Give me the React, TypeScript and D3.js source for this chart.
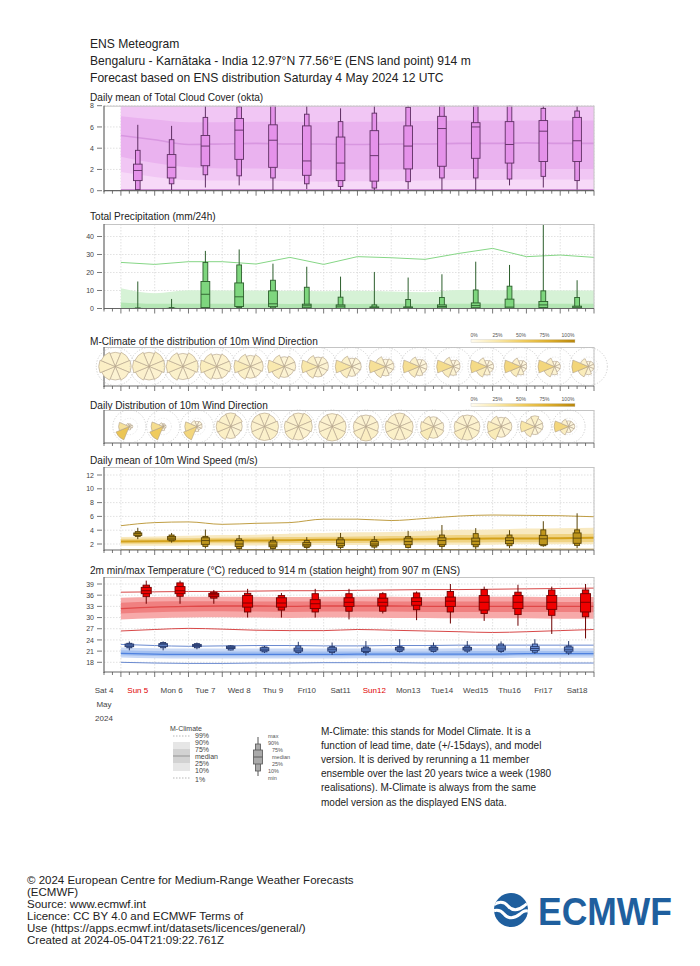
import React from 'react';
import * as d3 from 'd3';

const FONT = "'Liberation Sans', Arial, Helvetica, sans-serif";

// ---------- DATA ----------
const titleLines = [
  'ENS Meteogram',
  'Bengaluru - Karnātaka - India 12.97°N 77.56°E (ENS land point) 914 m',
  'Forecast based on ENS distribution Saturday 4 May 2024 12 UTC',
];
const dayLabels = ['Sat 4', 'Sun 5', 'Mon 6', 'Tue 7', 'Wed 8', 'Thu 9', 'Fri10', 'Sat11', 'Sun12', 'Mon13', 'Tue14', 'Wed15', 'Thu16', 'Fri17', 'Sat18'];
const sundayIdx = [1, 8];

// box stats: [min, p10, p25, median, p75, p90, max]
const cloudBoxes = [
  [0.0, 0.1, 0.95, 1.9, 2.5, 3.8, 6.2],
  [0.0, 0.65, 1.2, 2.2, 3.4, 4.8, 6.1],
  [0.3, 1.5, 2.35, 4.2, 5.2, 6.9, 8.0],
  [0.5, 1.4, 2.95, 5.7, 6.8, 7.9, 8.0],
  [0.0, 1.2, 2.2, 4.75, 6.2, 8.0, 8.0],
  [0.15, 0.65, 1.45, 2.8, 6.1, 7.2, 8.0],
  [0.0, 0.4, 0.95, 2.6, 5.05, 6.5, 7.75],
  [0.0, 0.25, 0.9, 3.3, 5.65, 7.3, 8.0],
  [0.15, 0.85, 2.05, 4.2, 6.1, 7.85, 8.0],
  [0.0, 1.2, 2.3, 5.85, 7.0, 8.0, 8.0],
  [0.0, 1.2, 3.05, 6.0, 6.4, 8.0, 8.0],
  [0.5, 1.1, 2.6, 4.35, 6.5, 8.0, 8.0],
  [0.3, 1.35, 2.75, 5.6, 6.6, 7.75, 8.0],
  [0.1, 0.95, 2.75, 4.7, 6.9, 7.5, 8.0],
];
const cloudClim99 = [8, 8, 8, 8, 8, 8, 8, 8, 8, 8, 8, 8, 8, 8, 8];
const cloudClim75 = [7.0, 6.7, 6.45, 6.45, 6.5, 6.5, 6.45, 6.5, 6.5, 6.55, 6.6, 6.6, 6.6, 6.6, 6.6];
const cloudClimMed = [5.2, 4.8, 4.35, 4.4, 4.45, 4.4, 4.4, 4.35, 4.4, 4.4, 4.45, 4.45, 4.5, 4.45, 4.45];
const cloudClim25 = [3.2, 2.6, 2.2, 2.1, 2.1, 2.05, 2.0, 2.0, 2.0, 2.05, 2.05, 2.05, 2.05, 2.05, 2.05];
const cloudClim10 = [1.75, 1.3, 1.0, 0.95, 0.95, 0.9, 0.85, 0.9, 0.9, 0.95, 1.0, 1.0, 1.05, 1.05, 1.05];
const cloudClim1 = [0.1, 0.1, 0.1, 0.1, 0.1, 0.1, 0.1, 0.1, 0.1, 0.1, 0.1, 0.1, 0.1, 0.1, 0.1];

const precipBoxes = [
  [0, 0, 0, 0, 0.05, 0.3, 15],
  [0, 0, 0, 0, 0.1, 0.5, 5.3],
  [0, 0.2, 0.5, 7.9, 15, 25.6, 32],
  [0, 0.5, 1.1, 6.5, 14.2, 24.2, 32.8],
  [0, 0.3, 1.0, 2.6, 9.8, 15.7, 24.9],
  [0, 0.1, 0.4, 1.5, 2.4, 11.8, 23.2],
  [0, 0, 0.2, 1.3, 2.0, 6.3, 17.7],
  [0, 0, 0.1, 0.4, 0.9, 2.0, 20.3],
  [0, 0, 0.1, 0.4, 0.9, 5.0, 17.2],
  [0, 0, 0.3, 1.1, 2.0, 6.1, 19],
  [0, 0.1, 0.4, 1.6, 3.1, 10.3, 26],
  [0, 0, 0.2, 0.8, 5.2, 12.4, 24.2],
  [0, 0.1, 0.5, 2.0, 3.9, 9.8, 47],
  [0, 0, 0.2, 0.7, 1.3, 6.1, 15.7],
];
const precipClim99 = [25.6, 24.5, 26, 26, 24.7, 28.4, 24.5, 28.8, 28.2, 27.3, 30.6, 33.4, 28.8, 29.7, 28.4];
const precipClim90 = [11.3, 8.5, 10.1, 10, 10, 9.8, 9.6, 9.8, 9.5, 9, 10.3, 10.2, 10.1, 10, 10];
const precipClim75 = [3.3, 2.6, 2.6, 2.7, 2.6, 2.5, 2.6, 2.5, 2.6, 2.5, 2.6, 2.7, 2.6, 2.6, 2.6];

// wind direction frequencies (%) for sectors N, NE, E, SE, S, SW, W, NW
const climRoses = [
  [11, 13, 14, 12, 10, 12, 15, 13],
  [11, 14, 14, 11, 10, 12, 15, 13],
  [10, 13, 14, 11, 10, 13, 16, 13],
  [10, 12, 13, 11, 10, 13, 18, 13],
  [9, 12, 12, 10, 10, 14, 20, 13],
  [8, 11, 11, 9, 10, 15, 23, 13],
  [8, 10, 10, 9, 10, 15, 25, 13],
  [7, 9, 9, 8, 10, 16, 28, 13],
  [6, 8, 8, 7, 10, 17, 31, 13],
  [6, 7, 7, 7, 10, 17, 33, 13],
  [5, 7, 6, 6, 10, 18, 35, 13],
  [5, 6, 6, 6, 10, 18, 37, 12],
  [5, 6, 5, 5, 10, 18, 39, 12],
  [4, 5, 5, 5, 10, 19, 40, 12],
  [4, 5, 5, 5, 10, 19, 41, 11],
];
const dailyRoses = [
  [2, 2, 3, 2, 3, 55, 30, 3],
  [2, 2, 2, 2, 4, 50, 34, 4],
  [5, 6, 5, 3, 5, 40, 28, 8],
  [14, 12, 10, 9, 11, 15, 16, 13],
  [12, 11, 13, 14, 13, 13, 12, 12],
  [12, 14, 13, 11, 12, 14, 13, 11],
  [11, 12, 13, 14, 14, 13, 12, 11],
  [10, 11, 12, 14, 16, 14, 12, 11],
  [12, 11, 12, 13, 12, 14, 14, 12],
  [9, 8, 10, 12, 13, 20, 16, 12],
  [10, 11, 12, 13, 14, 16, 13, 11],
  [8, 10, 11, 10, 11, 20, 18, 12],
  [14, 9, 8, 7, 8, 16, 26, 12],
  [6, 6, 7, 6, 7, 16, 40, 12],
];
const colorbarLabels = ['0%', '25%', '50%', '75%', '100%'];

const windBoxes = [
  [2.7, 3.1, 3.25, 3.5, 3.6, 3.8, 4.35],
  [2.2, 2.45, 2.6, 2.85, 3.1, 3.3, 3.6],
  [1.35, 1.65, 1.95, 2.5, 2.9, 3.1, 4.1],
  [1.15, 1.35, 1.65, 2.0, 2.5, 2.75, 3.3],
  [1.15, 1.35, 1.6, 1.85, 2.3, 2.5, 3.1],
  [1.0, 1.5, 1.7, 1.9, 2.2, 2.5, 3.0],
  [1.25, 1.5, 1.75, 2.1, 2.6, 2.9, 3.6],
  [1.3, 1.55, 1.75, 2.0, 2.35, 2.6, 3.15],
  [1.35, 1.5, 1.9, 2.35, 2.85, 3.1, 3.9],
  [0.85, 1.65, 1.9, 2.5, 2.9, 3.3, 4.75],
  [1.2, 1.6, 1.9, 2.4, 2.85, 3.5, 4.3],
  [1.4, 1.75, 2.05, 2.5, 2.9, 3.3, 4.0],
  [1.6, 1.75, 1.9, 2.75, 3.25, 4.05, 5.3],
  [1.4, 1.8, 2.1, 2.85, 3.6, 4.05, 6.45],
];
const windClim99 = [4.65, 5.1, 5.2, 4.85, 5.0, 5.1, 5.6, 5.6, 5.4, 5.7, 6.05, 6.2, 6.15, 6.1, 5.95];
const windClim90 = [3.0, 3.1, 3.2, 3.3, 3.35, 3.5, 3.6, 3.7, 3.75, 3.9, 4.05, 4.1, 4.25, 4.3, 4.35];
const windClim75 = [2.75, 2.8, 2.85, 2.9, 2.95, 3.0, 3.05, 3.1, 3.15, 3.2, 3.3, 3.35, 3.4, 3.45, 3.5];
const windClimMed = [2.35, 2.4, 2.45, 2.5, 2.5, 2.55, 2.6, 2.6, 2.65, 2.7, 2.75, 2.8, 2.8, 2.85, 2.9];
const windClim25 = [2.05, 2.05, 2.1, 2.1, 2.1, 2.15, 2.15, 2.15, 2.2, 2.2, 2.2, 2.25, 2.25, 2.25, 2.3];
const windClim10 = [1.75, 1.75, 1.8, 1.8, 1.8, 1.85, 1.85, 1.85, 1.9, 1.9, 1.9, 1.9, 1.95, 1.95, 1.95];
const windClim1 = [1.15, 1.15, 1.15, 1.15, 1.2, 1.2, 1.2, 1.2, 1.2, 1.2, 1.2, 1.25, 1.25, 1.25, 1.25];

const tmaxBoxes = [
  [33.7, 35.6, 36.4, 37.2, 38.1, 38.7, 39.9],
  [33.7, 35.7, 36.4, 37.2, 38.3, 39.3, 39.9],
  [33.7, 35.2, 35.6, 36.1, 36.5, 36.8, 37.4],
  [30.0, 31.5, 32.8, 33.9, 35.9, 36.5, 37.7],
  [30.0, 32.0, 32.8, 33.9, 35.3, 35.9, 36.6],
  [30.0, 31.5, 32.4, 33.7, 34.8, 36.4, 37.7],
  [29.5, 31.7, 33.0, 34.1, 35.3, 36.4, 37.7],
  [31.1, 31.7, 33.1, 34.1, 35.2, 36.4, 36.8],
  [29.3, 32.1, 33.3, 34.3, 35.3, 36.6, 37.0],
  [28.4, 31.5, 33.0, 34.4, 35.5, 37.0, 39.0],
  [29.1, 31.1, 32.0, 34.1, 35.9, 37.5, 38.3],
  [27.8, 30.8, 32.4, 34.1, 35.9, 36.8, 38.8],
  [25.6, 30.6, 32.2, 34.1, 35.9, 37.4, 38.3],
  [24.4, 30.2, 31.5, 34.1, 36.4, 37.4, 39.0],
];
const tminBoxes = [
  [21.2, 21.9, 22.2, 22.6, 22.9, 23.1, 23.6],
  [21.2, 21.9, 22.2, 22.7, 23.0, 23.3, 23.6],
  [21.5, 21.9, 22.2, 22.5, 22.8, 23.0, 23.3],
  [21.2, 21.3, 21.7, 22.0, 22.3, 22.4, 22.6],
  [20.5, 20.8, 21.1, 21.5, 21.9, 22.1, 22.4],
  [20.3, 20.6, 21.0, 21.3, 21.8, 22.4, 23.5],
  [20.0, 20.6, 21.0, 21.5, 21.9, 22.2, 23.3],
  [19.8, 20.6, 20.9, 21.3, 21.8, 22.1, 23.7],
  [20.6, 20.9, 21.3, 21.6, 22.0, 22.2, 24.2],
  [20.6, 20.9, 21.3, 21.6, 22.0, 22.4, 23.3],
  [20.5, 21.0, 21.3, 21.6, 22.0, 22.4, 23.7],
  [20.5, 20.9, 21.3, 21.8, 22.4, 22.9, 23.6],
  [20.3, 20.7, 21.2, 21.7, 22.2, 22.9, 24.2],
  [20.0, 20.5, 21.0, 21.5, 22.1, 22.4, 23.7],
];
const tmaxClim99 = [36.8, 36.9, 37.0, 37.0, 37.1, 37.2, 37.2, 37.3, 37.4, 37.5, 37.5, 37.6, 37.7, 37.8, 37.9];
const tmaxClim90 = [35.3, 35.5, 35.6, 35.6, 35.6, 35.5, 35.6, 35.6, 35.6, 35.5, 35.6, 35.6, 35.6, 35.5, 35.5];
const tmaxClim75 = [34.0, 34.3, 34.4, 34.4, 34.3, 34.3, 34.3, 34.4, 34.3, 34.3, 34.3, 34.3, 34.3, 34.2, 34.2];
const tmaxClimMed = [32.4, 32.8, 33.0, 33.1, 33.1, 33.0, 33.1, 33.1, 33.1, 33.0, 33.0, 33.0, 33.0, 33.0, 33.0];
const tmaxClim25 = [31.1, 31.4, 31.6, 31.7, 31.6, 31.5, 31.6, 31.6, 31.6, 31.5, 31.5, 31.5, 31.5, 31.5, 31.4];
const tmaxClim10 = [29.5, 29.8, 30.0, 30.1, 30.0, 29.9, 30.0, 30.0, 29.9, 29.9, 29.8, 29.8, 29.8, 29.7, 29.7];
const tmaxClim1 = [26.4, 26.8, 27.1, 26.9, 26.6, 26.5, 26.5, 26.8, 26.6, 26.4, 26.2, 26.0, 26.2, 26.5, 26.8];
const tminClim99 = [22.8, 22.5, 22.3, 22.4, 22.5, 22.5, 22.4, 22.4, 22.5, 22.5, 22.6, 22.6, 22.6, 22.6, 22.6];
const tminClim90 = [22.0, 21.8, 21.7, 21.7, 21.7, 21.7, 21.7, 21.7, 21.7, 21.7, 21.8, 21.8, 21.8, 21.8, 21.8];
const tminClim75 = [21.2, 21.0, 20.9, 20.9, 20.9, 20.9, 20.9, 20.9, 20.9, 20.9, 21.0, 21.0, 21.0, 21.0, 21.0];
const tminClimMed = [20.4, 20.2, 20.1, 20.1, 20.1, 20.1, 20.1, 20.2, 20.2, 20.2, 20.2, 20.2, 20.3, 20.3, 20.3];
const tminClim25 = [19.9, 19.7, 19.6, 19.6, 19.6, 19.6, 19.6, 19.7, 19.7, 19.7, 19.7, 19.7, 19.8, 19.8, 19.8];
const tminClim10 = [19.3, 19.1, 19.0, 19.0, 19.0, 19.0, 19.0, 19.1, 19.1, 19.1, 19.1, 19.1, 19.2, 19.2, 19.2];
const tminClim1 = [18.0, 17.8, 17.7, 17.7, 17.8, 17.8, 17.9, 17.9, 17.9, 17.8, 17.8, 17.8, 17.8, 17.8, 17.8];

const climLegend = ['99%', '90%', '75%', 'median', '25%', '10%', '1%'];
const boxLegend = ['max', '90%', '75%', 'median', '25%', '10%', 'min'];
const noteLines = [
  'M-Climate: this stands for Model Climate. It is a',
  'function of lead time, date (+/-15days), and model',
  'version. It is derived by rerunning a 11 member',
  'ensemble over the last 20 years twice a week (1980',
  'realisations). M-Climate is always from the same',
  'model version as the displayed ENS data.',
];
const footerLines = [
  '© 2024 European Centre for Medium-Range Weather Forecasts',
  '(ECMWF)',
  'Source: www.ecmwf.int',
  'Licence: CC BY 4.0 and ECMWF Terms of',
  'Use (https://apps.ecmwf.int/datasets/licences/general/)',
  'Created at 2024-05-04T21:09:22.761Z',
];

// ---------- LAYOUT ----------
const x = d3.scaleLinear().domain([0, 348]).range([104, 594]); // hours from Sat 4 12 UTC
const climHours = d3.range(15).map((k) => 12 + 24 * k);
const noonHours = d3.range(14).map((k) => 24 + 24 * k);
const eveningHours = d3.range(14).map((k) => 30 + 24 * k);
const morningHours = d3.range(14).map((k) => 18 + 24 * k);
const climRoseHours = d3.range(15).map((k) => 8 + 24 * k);
const majorTicks = d3.range(15).map((k) => 12 + 24 * k);
const minorTicks = d3.range(0, 349, 6);

const roseColor = d3
  .scaleLinear<string>()
  .domain([0, 0.25, 0.5, 0.75, 1])
  .range(['#fffbee', '#f8e7aa', '#efcb5e', '#dcad2c', '#b8860b']);

type Panel = { top: number; bottom: number; y?: d3.ScaleLinear<number, number>; ticks?: number[] };

function Frame({ p, id, children }: { p: Panel; id: string; children?: React.ReactNode }) {
  const { top, bottom, y, ticks } = p;
  return (
    <g>
      <defs>
        <clipPath id={id}>
          <rect x={104} y={top} width={490} height={bottom - top} />
        </clipPath>
      </defs>
      <rect x={104} y={top} width={490} height={bottom - top} fill="#fff" />
      {majorTicks.map((h) => (
        <line key={'v' + h} x1={x(h)} x2={x(h)} y1={top} y2={bottom} stroke="#d4d4d4" strokeWidth={0.7} strokeDasharray="1.5,1.5" />
      ))}
      {y && ticks && ticks.map((t) => (
        <line key={'h' + t} x1={104} x2={594} y1={y(t)} y2={y(t)} stroke="#d4d4d4" strokeWidth={0.7} strokeDasharray="1.5,1.5" />
      ))}
      <g clipPath={`url(#${id})`}>{children}</g>
      <line x1={104} x2={594} y1={top + 0.5} y2={top + 0.5} stroke="#c4c4c4" strokeWidth={1} />
      <line x1={594} x2={594} y1={top} y2={bottom} stroke="#c4c4c4" strokeWidth={1} />
      <line x1={104} x2={104} y1={top} y2={bottom + 1} stroke="#666" strokeWidth={1.2} />
      <line x1={104} x2={594} y1={bottom} y2={bottom} stroke="#666" strokeWidth={1.2} />
      {minorTicks.map((h) => {
        const major = (h - 12) % 24 === 0;
        return <line key={'t' + h} x1={x(h)} x2={x(h)} y1={bottom} y2={bottom + (major ? 5 : 3)} stroke="#555" strokeWidth={0.8} />;
      })}
      {y && ticks && ticks.map((t) => (
        <g key={'yl' + t}>
          <line x1={97} x2={102} y1={y(t)} y2={y(t)} stroke="#555" strokeWidth={0.8} />
          <text x={94} y={y(t) + 2.6} fontSize={7} fill="#444" textAnchor="end" fontFamily={FONT}>{t}</text>
        </g>
      ))}
    </g>
  );
}

function Box({ cx, s, y, w1, w2, fill, stroke }: { cx: number; s: number[]; y: d3.ScaleLinear<number, number>; w1: number; w2: number; fill: string; stroke: string }) {
  const [mn, p10, p25, md, p75, p90, mx] = s;
  return (
    <g>
      <line x1={cx} x2={cx} y1={y(mx)} y2={y(mn)} stroke={stroke} strokeWidth={1} />
      <rect x={cx - w1 / 2} y={y(p90)} width={w1} height={Math.max(0.5, y(p10) - y(p90))} fill={fill} stroke={stroke} strokeWidth={0.9} />
      <rect x={cx - w2 / 2} y={y(p75)} width={w2} height={Math.max(0.5, y(p25) - y(p75))} fill={fill} stroke={stroke} strokeWidth={0.9} />
      <line x1={cx - w2 / 2} x2={cx + w2 / 2} y1={y(md)} y2={y(md)} stroke={stroke} strokeWidth={0.9} />
    </g>
  );
}

function band(y: d3.ScaleLinear<number, number>, lo: number[], hi: number[], curve = d3.curveMonotoneX) {
  return d3
    .area<number>()
    .x((h) => x(h))
    .y0((_, i) => y(lo[i]))
    .y1((_, i) => y(hi[i]))
    .curve(curve)(climHours) as string;
}
function line(y: d3.ScaleLinear<number, number>, v: number[], curve = d3.curveMonotoneX) {
  return d3
    .line<number>()
    .x((h) => x(h))
    .y((_, i) => y(v[i]))
    .curve(curve)(climHours) as string;
}

function Rose({ cx, cy, f, R, ring }: { cx: number; cy: number; f: number[]; R: number; ring: number }) {
  const mx = d3.max(f) as number;
  const r = d3.scaleSqrt().domain([0, mx]).range([0, R]);
  const arc = d3.arc();
  return (
    <g transform={`translate(${cx},${cy})`}>
      <circle r={ring} fill="none" stroke="#bdbdbd" strokeWidth={0.7} strokeDasharray="1.2,1.6" />
      <circle r={ring * 0.5} fill="none" stroke="#d6d6d6" strokeWidth={0.6} strokeDasharray="1.2,1.6" />
      {f.map((v, i) => {
        const a = (i * 45 * Math.PI) / 180;
        const d = arc({ innerRadius: 0, outerRadius: r(v), startAngle: a - Math.PI / 8, endAngle: a + Math.PI / 8 }) as string;
        return <path key={i} d={d} fill={roseColor(v / 100)} stroke="#b0a088" strokeWidth={0.6} />;
      })}
    </g>
  );
}

function Colorbar({ yLab, yBar, id }: { yLab: number; yBar: number; id: string }) {
  const labX = [474, 497.5, 521, 544.5, 568];
  return (
    <g>
      <defs>
        <linearGradient id={id} x1="0" x2="1" y1="0" y2="0">
          {[0, 0.25, 0.5, 0.75, 1].map((t) => (
            <stop key={t} offset={t} stopColor={roseColor(t)} />
          ))}
        </linearGradient>
      </defs>
      {colorbarLabels.map((l, i) => (
        <text key={l} x={labX[i]} y={yLab} fontSize={5} fill="#555" textAnchor="middle" fontFamily={FONT}>{l}</text>
      ))}
      <rect x={471} y={yBar} width={104} height={3.2} fill={`url(#${id})`} stroke="#ccc" strokeWidth={0.4} />
    </g>
  );
}

export default function App() {
  const cloud: Panel = { top: 105.7, bottom: 190.7, ticks: [0, 2, 4, 6, 8] };
  cloud.y = d3.scaleLinear().domain([0, 8]).range([190.7, 105.7]);
  const precip: Panel = { top: 224, bottom: 308.5, ticks: [0, 10, 20, 30, 40] };
  precip.y = d3.scaleLinear().domain([0, 46.94]).range([308.5, 224]);
  const mrose: Panel = { top: 347, bottom: 386 };
  const drose: Panel = { top: 410, bottom: 443 };
  const wind: Panel = { top: 467, bottom: 550, ticks: [2, 4, 6, 8, 10, 12] };
  wind.y = d3.scaleLinear().domain([2, 12]).range([544, 475]);
  const temp: Panel = { top: 577, bottom: 672, ticks: [18, 21, 24, 27, 30, 33, 36, 39] };
  temp.y = d3.scaleLinear().domain([18, 39]).range([662.3, 584]);

  const cy = cloud.y!, py = precip.y!, wy = wind.y!, ty = temp.y!;
  const panelTitle = (t: string, yy: number) => (
    <text x={90} y={yy} fontSize={10.1} fill="#222" fontFamily={FONT}>{t}</text>
  );

  return (
    <svg width={700} height={966} style={{ position: 'absolute', left: 0, top: 0, background: '#fff' }} fontFamily={FONT}>
      <rect width={700} height={966} fill="#fff" />
      {titleLines.map((t, i) => (
        <text key={i} x={90} y={48 + i * 17} fontSize={12.1} fill="#222">{t}</text>
      ))}

      {/* Cloud cover */}
      {panelTitle('Daily mean of Total Cloud Cover (okta)', 101)}
      <Frame p={cloud} id="c1">
        <path d={band(cy, cloudClim1, cloudClim99)} fill="#f7d9f8" />
        <path d={band(cy, cloudClim10, cloudClim99)} fill="#f1c6f4" />
        <path d={band(cy, cloudClim25, cloudClim75)} fill="#eab2ef" />
        <path d={line(cy, cloudClimMed)} fill="none" stroke="#d896e0" strokeWidth={1.6} />
        <path d={line(cy, cloudClim1)} fill="none" stroke="#c98bd0" strokeWidth={1.2} />
        {cloudBoxes.map((s, i) => (
          <Box key={i} cx={x(noonHours[i])} s={s} y={cy} w1={4.6} w2={8.6} fill="#e592ea" stroke="#5e2e62" />
        ))}
      </Frame>

      {/* Precipitation */}
      {panelTitle('Total Precipitation (mm/24h)', 219.5)}
      <Frame p={precip} id="c2">
        <path d={band(py, precipClim90.map(() => 0), precipClim90)} fill="#d6f2d6" />
        <path d={band(py, precipClim75.map(() => 0), precipClim75)} fill="#b4e6b4" />
        <path d={line(py, precipClim99, d3.curveLinear)} fill="none" stroke="#86d686" strokeWidth={1} />
        {precipBoxes.map((s, i) => (
          <Box key={i} cx={x(noonHours[i])} s={s} y={py} w1={4.8} w2={8.8} fill="#7ed67e" stroke="#2c5e2c" />
        ))}
      </Frame>

      {/* M-Climate wind direction */}
      {panelTitle('M-Climate of the distribution of 10m Wind Direction', 344.5)}
      <Colorbar yLab={337} yBar={339.5} id="g1" />
      <Frame p={mrose} id="c3" />
      {climRoses.map((f, i) => (
        <Rose key={i} cx={x(climRoseHours[i])} cy={366.5} f={f} R={16.5} ring={19} />
      ))}

      {/* Daily wind direction */}
      {panelTitle('Daily Distribution of 10m Wind Direction', 408.5)}
      <Colorbar yLab={401} yBar={403.5} id="g2" />
      <Frame p={drose} id="c4" />
      {dailyRoses.map((f, i) => (
        <Rose key={i} cx={x(morningHours[i])} cy={426.5} f={f} R={14.5} ring={16.5} />
      ))}

      {/* Wind speed */}
      {panelTitle('Daily mean of 10m Wind Speed (m/s)', 463.5)}
      <Frame p={wind} id="c5">
        <path d={band(wy, windClim10, windClim90)} fill="#f8e9c0" />
        <path d={band(wy, windClim25, windClim75)} fill="#f0d382" />
        <path d={line(wy, windClimMed)} fill="none" stroke="#d4a21c" strokeWidth={2} />
        <path d={line(wy, windClim99)} fill="none" stroke="#b8922e" strokeWidth={0.9} />
        <path d={line(wy, windClim1)} fill="none" stroke="#b8922e" strokeWidth={0.9} />
        {windBoxes.map((s, i) => (
          <Box key={i} cx={x(noonHours[i])} s={s} y={wy} w1={5} w2={8} fill="#bf961c" stroke="#5a4508" />
        ))}
      </Frame>

      {/* Temperature */}
      {panelTitle('2m min/max Temperature (°C) reduced to 914 m (station height) from 907 m (ENS)', 573.5)}
      <Frame p={temp} id="c6">
        <path d={band(ty, tmaxClim10, tmaxClim90)} fill="#f7a9a9" />
        <path d={band(ty, tmaxClim25, tmaxClim75)} fill="#f08080" />
        <path d={line(ty, tmaxClimMed)} fill="none" stroke="#e04848" strokeWidth={1.3} />
        <path d={line(ty, tmaxClim99)} fill="none" stroke="#d84848" strokeWidth={1} />
        <path d={line(ty, tmaxClim1)} fill="none" stroke="#d84848" strokeWidth={1} />
        <path d={band(ty, tminClim10, tminClim90)} fill="#c9d9f6" />
        <path d={band(ty, tminClim25, tminClim75)} fill="#a4c0f0" />
        <path d={line(ty, tminClimMed)} fill="none" stroke="#4f82e0" strokeWidth={1.3} />
        <path d={line(ty, tminClim99)} fill="none" stroke="#6a8ad0" strokeWidth={1} />
        <path d={line(ty, tminClim1)} fill="none" stroke="#6a8ad0" strokeWidth={1} />
        {tminBoxes.map((s, i) => (
          <Box key={'n' + i} cx={x(morningHours[i])} s={s} y={ty} w1={5} w2={8.6} fill="#6c93dc" stroke="#26386a" />
        ))}
        {tmaxBoxes.map((s, i) => (
          <Box key={'x' + i} cx={x(eveningHours[i])} s={s} y={ty} w1={6.4} w2={10} fill="#f00000" stroke="#6e0000" />
        ))}
      </Frame>

      {/* x labels */}
      {dayLabels.map((d, i) => (
        <text key={d} x={x(24 * i)} y={693} fontSize={8} textAnchor="middle" fill={sundayIdx.includes(i) ? '#e00000' : '#444'}>{d}</text>
      ))}
      <text x={x(0)} y={707} fontSize={8} textAnchor="middle" fill="#444">May</text>
      <text x={x(0)} y={721} fontSize={8} textAnchor="middle" fill="#444">2024</text>

      {/* M-Climate legend */}
      <text x={170} y={730.5} fontSize={7} fill="#444">M-Climate</text>
      <rect x={173} y={742} width={17} height={29} fill="#e6e6e6" />
      <rect x={173} y={749} width={17} height={14} fill="#d2d2d2" />
      <line x1={173} x2={190} y1={756} y2={756} stroke="#a8a8a8" strokeWidth={1.5} />
      <line x1={173} x2={190} y1={736} y2={736} stroke="#999" strokeWidth={0.7} strokeDasharray="1.5,1.5" />
      <line x1={173} x2={190} y1={778} y2={778} stroke="#999" strokeWidth={0.7} strokeDasharray="1.5,1.5" />
      {climLegend.map((l, i) => (
        <text key={l} x={195} y={738 + i * 7 + (i === 6 ? 1.5 : 0)} fontSize={7} fill="#444">{l}</text>
      ))}

      {/* Box legend */}
      <line x1={258} x2={258} y1={737} y2={776} stroke="#555" strokeWidth={1} />
      <rect x={255.5} y={744} width={5} height={27} fill="#aaa" stroke="#555" strokeWidth={0.8} />
      <rect x={253.5} y={750} width={9} height={14} fill="#aaa" stroke="#555" strokeWidth={0.8} />
      <line x1={253.5} x2={262.5} y1={757} y2={757} stroke="#555" strokeWidth={0.9} />
      {boxLegend.map((l, i) => (
        <text key={l + i} x={i >= 2 && i <= 4 ? 272 : 268} y={738 + i * 7} fontSize={5.5} fill="#555">{l}</text>
      ))}

      {noteLines.map((t, i) => (
        <text key={i} x={321} y={735 + i * 14.1} fontSize={10} fill="#222">{t}</text>
      ))}

      {footerLines.map((t, i) => (
        <text key={i} x={27} y={884 + i * 12} fontSize={11.5} fill="#222">{t}</text>
      ))}

      {/* ECMWF logo */}
      <defs>
        <clipPath id="logoClip">
          <circle cx={511} cy={910} r={17} />
        </clipPath>
      </defs>
      <circle cx={511} cy={910} r={17} fill="#1f5f9e" />
      <g clipPath="url(#logoClip)" fill="none" stroke="#fff" strokeWidth={3} strokeLinecap="round">
        <path d="M 492 906 C 498 901, 504 901, 508 906 C 512 911, 518 911, 524 906 C 528 902, 531 902, 534 905" />
        <path d="M 488 914 C 494 909, 500 909, 504 914 C 508 919, 514 919, 520 914 C 524 910, 528 910, 531 913" />
      </g>
      <text x={538} y={925} fontSize={38} fontWeight="bold" fill="#1f5f9e" textLength={134} lengthAdjust="spacingAndGlyphs">ECMWF</text>
    </svg>
  );
}
